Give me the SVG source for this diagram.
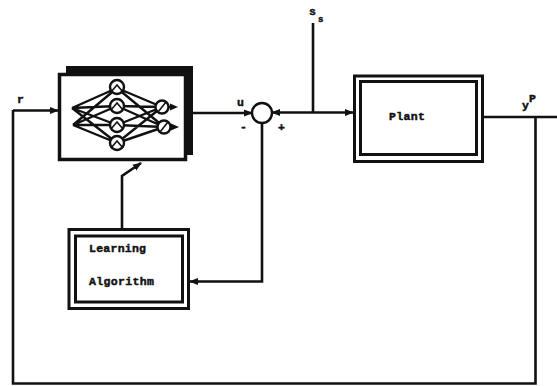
<svg xmlns="http://www.w3.org/2000/svg" width="557" height="386" viewBox="0 0 557 386">
<style>
text{font-family:"Liberation Mono",monospace;font-weight:bold;font-size:11.5px;fill:#111;stroke:#111;stroke-width:.45}
.l{fill:none;stroke:#111;stroke-width:2.6}
.t{fill:none;stroke:#111;stroke-width:2.4}
.g{fill:none;stroke:#111;stroke-width:1.6}
.n{fill:#fff;stroke:#111;stroke-width:2.4}
.w{fill:none;stroke:#111;stroke-width:3}
</style>
<defs>
<marker id="a" markerUnits="userSpaceOnUse" markerWidth="9" markerHeight="8" refX="8" refY="4" orient="auto"><path d="M0 0.5L9 4L0 7.5z" fill="#111"/></marker>
</defs>
<rect width="557" height="386" fill="#fff"/>
<g id="connectors">
<path class="l" d="M13 110.500H58" marker-end="url(#a)"/>
<path class="l" d="M13 110V383.500H535.500V117"/>
<path class="l" d="M187 113H252" marker-end="url(#a)"/>
<path class="l" d="M313 23V112"/>
<path class="l" d="M313 112.500H272" marker-end="url(#a)"/>
<path class="l" d="M313 112.500H353" marker-end="url(#a)"/>
<path class="l" d="M483 117H557"/>
<path class="l" d="M262 123V281.500H190" marker-end="url(#a)"/>
<path class="l" d="M122 229V176L141 163" marker-end="url(#a)"/>
</g>
<g id="network">
<path d="M66 66H193V155H185V73H66z" fill="#111"/>
<rect x="59.500" y="74.500" width="126" height="85" fill="#fff" stroke="#111" stroke-width="3.5"/>
<path class="t" d="M72 108L117 88M72 108L117 106M72 108L117 125M72 108L117 143M73 125L117 88M73 125L117 106M73 125L117 125M73 125L117 143"/>
<path class="t" d="M117 88L162 107M117 106L162 107M117 125L162 107M117 143L162 107M117 88L164 127M117 106L164 127M117 125L164 127M117 143L164 127"/>
<path class="t" d="M162 107H174M164 127H175"/>
<path d="M170 103.500L178 107L170 110.500zM171 123.500L179 127L171 130.500z" fill="#111"/>
<circle class="n" cx="117" cy="87" r="7"/><path class="g" d="M111 92L117 85L123 92"/>
<circle class="n" cx="117" cy="106" r="7"/><path class="g" d="M111 110L117 103L123 110"/>
<circle class="n" cx="117" cy="125" r="7"/><path class="g" d="M111 129L117 122L123 129"/>
<circle class="n" cx="117" cy="143" r="7"/><path class="g" d="M111 148L117 141L123 148"/>
<circle class="n" cx="162" cy="107" r="6.500"/><path class="g" d="M158 112L166 102"/>
<circle class="n" cx="164" cy="127" r="6.500"/><path class="g" d="M160 132L168 122"/>
</g>
<g id="sum"><circle class="n" cx="262" cy="113" r="10"/></g>
<g id="plant">
<rect class="w" x="354.500" y="76" width="128" height="85.500" stroke-width="4"/>
<rect class="w" x="360.500" y="81.500" width="116" height="73"/>
<text x="389" y="120" textLength="36">Plant</text>
</g>
<g id="learning">
<rect class="w" x="69" y="229.500" width="119.500" height="79"/>
<rect class="w" x="75.500" y="236" width="107" height="66"/>
<text x="89" y="252" textLength="57">Learning</text>
<text x="89" y="285" textLength="65">Algorithm</text>
</g>
<g id="labels">
<text x="17" y="103">r</text>
<text x="237" y="106">u</text>
<text x="240" y="130">-</text>
<text x="278" y="131">+</text>
<text x="309" y="15">s</text>
<text x="318" y="22" style="font-size:9px">s</text>
<text x="522" y="109">y</text>
<text x="529" y="102">P</text>
</g>
</svg>
